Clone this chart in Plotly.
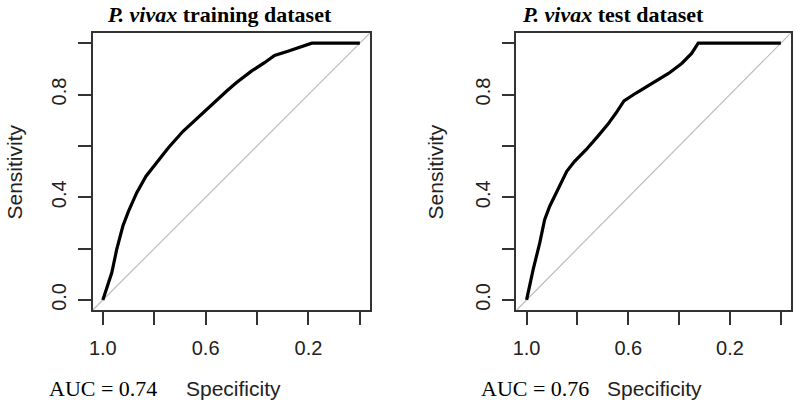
import plotly.graph_objects as go

# ---- data ----
spec_train = [1.0, 0.965, 0.946, 0.922, 0.900, 0.868, 0.832, 0.791, 0.745, 0.687,
              0.636, 0.571, 0.519, 0.481, 0.422, 0.371, 0.332, 0.280, 0.229, 0.187, 0.0]
sens_train = [0.0, 0.107, 0.197, 0.288, 0.346, 0.418, 0.482, 0.535, 0.593, 0.658,
              0.706, 0.768, 0.813, 0.846, 0.891, 0.924, 0.952, 0.969, 0.986, 1.0, 1.0]

spec_test = [1.0, 0.974, 0.948, 0.929, 0.909, 0.877, 0.842, 0.812, 0.766, 0.721,
             0.682, 0.649, 0.617, 0.571, 0.519, 0.480, 0.442, 0.390, 0.351, 0.325, 0.0]
sens_test = [0.0, 0.119, 0.223, 0.313, 0.365, 0.430, 0.501, 0.539, 0.585, 0.636,
             0.682, 0.727, 0.775, 0.805, 0.837, 0.859, 0.882, 0.921, 0.960, 1.0, 1.0]

diag_spec = [1.04, -0.04]
diag_sens = [1 - v for v in diag_spec]

tick_vals = [0.0, 0.2, 0.4, 0.6, 0.8, 1.0]
x_tick_text = ["", "0.2", "", "0.6", "", "1.0"]
y_tick_text = ["0.0", "", "0.4", "", "0.8", ""]

titles = ["<b><i>P. vivax</i> training dataset</b>", "<b><i>P. vivax</i> test dataset</b>"]
auc_labels = ["AUC = 0.74", "AUC = 0.76"]

W, H = 797, 406
SANS = "Liberation Sans, Arial, sans-serif"
SERIF = "Liberation Serif, Times New Roman, serif"

fig = go.Figure()

panels = [
    dict(spec=spec_train, sens=sens_train, xa="x", ya="y"),
    dict(spec=spec_test, sens=sens_test, xa="x2", ya="y2"),
]
for p in panels:
    fig.add_trace(go.Scatter(x=diag_spec, y=diag_sens, mode="lines",
                             line=dict(color="#bdbdbd", width=1.2),
                             xaxis=p["xa"], yaxis=p["ya"], hoverinfo="skip",
                             showlegend=False))
    fig.add_trace(go.Scatter(x=p["spec"], y=p["sens"], mode="lines",
                             line=dict(color="#000000", width=3.2),
                             xaxis=p["xa"], yaxis=p["ya"], showlegend=False))

def px(x):
    return x / W

def py(y):
    return 1 - y / H

box_y = [py(311), py(33)]
axis_common = dict(showgrid=False, zeroline=False, showline=True, mirror=True,
                   linecolor="#333333", linewidth=1.5, ticks="outside",
                   ticklen=13, tickwidth=1.5, tickcolor="#333333",
                   tickvals=tick_vals,
                   tickfont=dict(family=SANS, size=20, color="#222222"))

fig.update_layout(
    width=W, height=H,
    margin=dict(l=0, r=0, t=0, b=0),
    paper_bgcolor="white", plot_bgcolor="white",
    xaxis=dict(domain=[px(89), px(368)], range=[1.04, -0.04], anchor="y",
               ticktext=x_tick_text, ticklabelstandoff=6, **axis_common),
    yaxis=dict(domain=box_y, range=[-0.04, 1.04], anchor="x",
               ticktext=y_tick_text, tickangle=-90, ticklabelstandoff=4, **axis_common),
    xaxis2=dict(domain=[px(515), px(791)], range=[1.04, -0.04], anchor="y2",
                ticktext=x_tick_text, ticklabelstandoff=6, **axis_common),
    yaxis2=dict(domain=box_y, range=[-0.04, 1.04], anchor="x2",
                ticktext=y_tick_text, tickangle=-90, ticklabelstandoff=4, **axis_common),
)

ann = []
title_x = [217, 612]
sens_x = [11, 434]
spec_x = [231, 654]
auc_x = [99, 534]
for i in range(2):
    ann.append(dict(text=titles[i], x=px(title_x[i]), y=1.0, xref="paper", yref="paper",
                    showarrow=False, xanchor="center", yanchor="top",
                    font=dict(family=SERIF, size=22, color="#000000")))
    ann.append(dict(text="Sensitivity", x=px(sens_x[i]), y=py(172), xref="paper", yref="paper",
                    showarrow=False, xanchor="center", yanchor="middle", textangle=-90,
                    font=dict(family=SANS, size=21, color="#222222")))
    ann.append(dict(text="Specificity", x=px(spec_x[i]), y=py(389), xref="paper", yref="paper",
                    showarrow=False, xanchor="center", yanchor="middle",
                    font=dict(family=SANS, size=21, color="#222222")))
    ann.append(dict(text=auc_labels[i], x=px(auc_x[i]), y=py(389), xref="paper", yref="paper",
                    showarrow=False, xanchor="center", yanchor="middle",
                    font=dict(family=SERIF, size=22, color="#000000")))
fig.update_layout(annotations=ann)

fig.write_html("out.html", config={"displayModeBar": False},
               post_script="document.body.style.margin='0';document.body.style.overflow='hidden';")
